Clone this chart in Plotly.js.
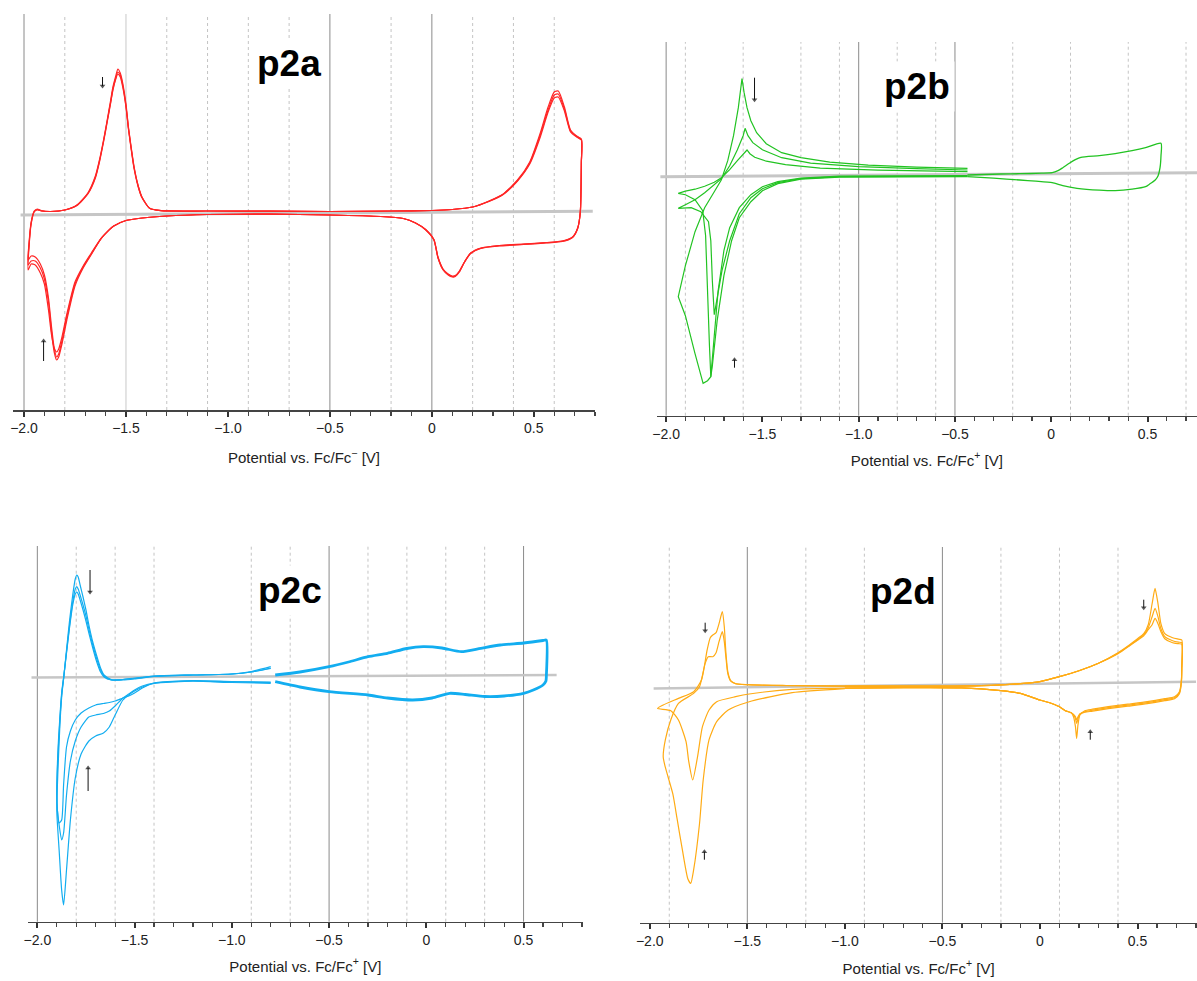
<!DOCTYPE html>
<html><head><meta charset="utf-8">
<script src="https://cdn.plot.ly/plotly-3.0.1.min.js"></script>
<style>html,body{margin:0;padding:0;background:#fff}#chart{width:1197px;height:981px}</style>
</head><body><div id="chart"></div>
<script>
// ---------- shared tick labels ----------
const tickVals = [-2.0, -1.5, -1.0, -0.5, 0, 0.5];
const tickText = ['\u22122.0', '\u22121.5', '\u22121.0', '\u22120.5', '0', '0.5'];

// ---------- p2a (red) ----------
const p2aX = [-1.980,-1.975,-1.965,-1.950,-1.935,-1.915,-1.870,-1.800,-1.740,-1.687,
 -1.650,-1.630,-1.610,-1.592,-1.575,-1.564,-1.550,-1.540,-1.528,-1.516,
 -1.500,-1.488,-1.474,-1.460,-1.440,-1.422,-1.384,-1.328,-1.100,-0.800,
 -0.500,-0.200,0.000,0.100,0.200,0.280,0.350,0.420,0.480,0.530,
 0.570,0.600,0.620,0.650,0.680,0.710,0.733,
 0.733,0.728,0.715,0.690,0.640,0.560,0.450,0.330,0.240,0.190,
 0.160,0.135,0.115,0.100,0.080,0.055,0.030,0.010,-0.030,-0.080,
 -0.140,-0.250,-0.500,-0.800,-1.100,-1.300,-1.420,-1.500,-1.560,-1.620,
 -1.670,-1.710,-1.750,-1.790,-1.815,-1.830,-1.840,-1.852,-1.865,-1.880,
 -1.900,-1.920,-1.945,-1.965,-1.980];
const p2aY1 = [-4.8,-3.0,-1.0,0.1,0.3,0.15,0.05,0.2,0.7,1.9,
 3.6,5.2,7.2,9.2,11.2,12.5,13.6,14.3,13.9,12.9,
 10.8,8.5,6.4,4.5,2.6,1.5,0.37,0.13,0.1,0.08,
 0.05,0.1,0.15,0.25,0.5,1.1,1.8,3.2,5.0,7.8,
 10.5,12.0,12.1,10.5,8.2,7.6,7.3,
 5.0,0.0,-1.6,-2.5,-2.9,-3.05,-3.2,-3.35,-3.6,-4.1,
 -5.0,-6.0,-6.45,-6.5,-6.3,-5.8,-4.6,-2.8,-1.8,-1.1,
 -0.65,-0.45,-0.3,-0.22,-0.25,-0.4,-0.6,-0.85,-1.4,-2.6,
 -4.2,-5.5,-7.2,-10.5,-13.0,-14.2,-14.5,-13.6,-11.5,-8.6,
 -6.3,-5.2,-4.5,-4.4,-4.8];
const p2aY2 = [-5.3,-3.2,-1.1,0.05,0.25,0.12,0.05,0.2,0.7,1.85,
 3.5,5.1,7.1,9.1,11.0,12.3,13.4,14.0,13.7,12.7,
 10.6,8.4,6.3,4.4,2.6,1.5,0.37,0.13,0.1,0.08,
 0.05,0.1,0.15,0.25,0.5,1.05,1.75,3.1,4.8,7.4,
 10.0,11.4,11.5,10.1,8.0,7.5,7.2,
 4.9,0.0,-1.65,-2.55,-2.95,-3.1,-3.25,-3.4,-3.65,-4.15,
 -5.0,-5.9,-6.35,-6.4,-6.2,-5.7,-4.5,-2.75,-1.75,-1.1,
 -0.65,-0.45,-0.3,-0.22,-0.25,-0.4,-0.6,-0.85,-1.4,-2.6,
 -4.25,-5.6,-7.4,-10.8,-13.3,-14.5,-14.8,-14.0,-12.0,-9.0,
 -6.7,-5.6,-4.9,-4.9,-5.3];
const p2aY3 = [-5.8,-3.4,-1.2,0.0,0.2,0.1,0.05,0.2,0.65,1.8,
 3.4,5.0,7.0,9.0,10.9,12.2,13.3,13.8,13.5,12.5,
 10.5,8.3,6.2,4.3,2.5,1.45,0.37,0.13,0.1,0.08,
 0.05,0.1,0.15,0.25,0.5,1.08,1.78,3.15,4.9,7.6,
 10.2,11.7,11.8,10.3,8.1,7.55,7.25,
 4.95,0.0,-1.62,-2.52,-2.92,-3.07,-3.22,-3.37,-3.62,-4.12,
 -5.0,-5.95,-6.4,-6.45,-6.25,-5.75,-4.55,-2.78,-1.78,-1.1,
 -0.65,-0.45,-0.3,-0.22,-0.25,-0.4,-0.6,-0.85,-1.4,-2.6,
 -4.1,-5.4,-7.0,-10.2,-12.6,-13.7,-14.0,-13.6,-12.3,-9.8,
 -7.2,-6.1,-5.3,-5.2,-5.8];
const p2aBaseX = [-2.017, 0.789];
const p2aBaseY = [-0.3, 0.07];

// ---------- p2b (green) ----------
const p2bC1X = [-0.435,-0.8,-1.1,-1.3,-1.42,-1.5,-1.56,-1.62,-1.66,-1.70,-1.735,-1.76,-1.768,-1.785,-1.808,-1.85,-1.90,-1.937,-1.90,-1.85,-1.80,-1.75,-1.713,-1.68,-1.65,-1.625,-1.606,-1.595,-1.58,-1.56,-1.53,-1.48,-1.40,-1.30,-1.15,-0.95,-0.70,-0.435];
const p2bC1Y = [-0.1,-0.1,-0.15,-0.35,-0.8,-1.5,-2.6,-4.2,-6.5,-10.0,-14.5,-19.0,-20.1,-20.5,-20.76,-17.8,-14.0,-12.1,-9.0,-5.6,-3.2,-1.6,-0.4,1.5,4.0,6.8,9.7,8.3,6.8,5.5,4.3,3.2,2.3,1.8,1.35,1.05,0.85,0.74];
const p2bC2X = [-0.435,-0.8,-1.1,-1.3,-1.42,-1.5,-1.56,-1.62,-1.67,-1.71,-1.74,-1.75,-1.76,-1.768,-1.78,-1.82,-1.87,-1.937,-1.90,-1.85,-1.80,-1.75,-1.713,-1.67,-1.63,-1.60,-1.59,-1.575,-1.55,-1.50,-1.40,-1.25,-1.0,-0.70,-0.435];
const p2bC2Y = [-0.05,-0.05,-0.1,-0.3,-0.7,-1.3,-2.2,-3.8,-6.5,-9.5,-12.8,-13.9,-10.5,-6.5,-4.6,-3.6,-3.2,-3.26,-2.9,-2.4,-1.7,-0.9,-0.3,1.0,2.6,4.0,4.74,4.0,3.3,2.6,1.8,1.25,0.9,0.7,0.57];
const p2bC3X = [-0.435,-0.8,-1.1,-1.3,-1.42,-1.5,-1.56,-1.62,-1.67,-1.70,-1.73,-1.75,-1.768,-1.775,-1.785,-1.795,-1.81,-1.85,-1.90,-1.937,-1.90,-1.85,-1.80,-1.75,-1.713,-1.67,-1.63,-1.60,-1.58,-1.565,-1.54,-1.48,-1.38,-1.2,-0.9,-0.435];
const p2bC3Y = [0.0,0.0,-0.05,-0.25,-0.6,-1.1,-1.9,-3.2,-5.2,-7.5,-11.5,-16.0,-20.1,-17.0,-11.0,-6.0,-3.5,-2.4,-1.9,-1.76,-1.55,-1.35,-1.05,-0.65,-0.2,0.6,1.5,2.2,2.57,2.2,1.85,1.45,1.1,0.75,0.55,0.4];
const p2bRX = [-0.435,-0.262,-0.163,-0.05,0.005,0.035,0.06,0.094,0.125,0.154,0.25,0.332,0.42,0.49,0.57,0.57,0.565,0.555,0.54,0.51,0.49,0.42,0.332,0.25,0.134,0.06,0.005,-0.08,-0.163,-0.3,-0.435];
const p2bRY = [0.07,0.17,0.2,0.25,0.3,0.5,0.8,1.24,1.6,1.84,2.0,2.2,2.5,2.8,3.24,2.0,0.8,0.0,-0.43,-0.85,-1.1,-1.35,-1.5,-1.45,-1.26,-1.0,-0.7,-0.55,-0.43,-0.25,-0.1];
const p2bBaseX = [-2.03, 0.757];
const p2bBaseY = [-0.1, 0.3];

// ---------- p2c (blue) ----------
const p2cX = [-0.800,-1.000,-1.200,-1.400,-1.460,-1.500,-1.530,-1.560,-1.600,-1.630,
 -1.660,-1.700,-1.735,-1.775,-1.805,-1.830,-1.850,-1.865,-1.875,-1.888,-1.897,-1.900,
 -1.895,-1.884,-1.874,-1.864,-1.850,-1.834,-1.818,-1.805,-1.797,-1.790,
 -1.780,-1.765,-1.750,-1.735,-1.715,-1.696,-1.675,-1.657,-1.620,-1.560,
 -1.500,-1.400,-1.200,-1.000,-0.900,-0.800];
const p2cYc = [-0.83,-0.75,-0.62,-0.85,-1.2,-1.6,-2.0,-2.5,-4.0,-5.2,
 -5.8,-6.1,-6.6,-7.9,-10.3,-14.5,-19.5,-23.0,-21.5,-17.5,-14.8,-13.5,
 -10.0,-5.0,-2.0,-0.2,2.5,5.5,8.0,9.6,10.0,9.8,
 9.0,7.8,6.5,5.0,3.3,2.0,0.7,0.0,-0.45,-0.5,
 -0.4,-0.15,0.0,0.1,0.35,0.83];
const p2cYb = [-0.75,-0.7,-0.58,-0.8,-1.1,-1.5,-1.9,-2.3,-3.1,-3.6,
 -3.85,-4.0,-4.2,-5.2,-6.6,-8.6,-12.0,-15.8,-16.5,-15.0,-13.5,-12.0,
 -8.5,-4.5,-1.8,-0.2,2.3,5.0,7.3,8.6,8.83,8.6,
 8.0,7.0,5.9,4.6,3.0,1.7,0.5,-0.1,-0.5,-0.45,
 -0.35,-0.12,0.0,0.1,0.3,0.7];
const p2cYa = [-0.7,-0.65,-0.55,-0.8,-1.3,-1.8,-2.1,-2.3,-2.6,-2.75,
 -2.85,-3.0,-3.3,-3.8,-4.5,-5.6,-7.2,-11.0,-14.5,-14.8,-13.5,-12.0,
 -8.0,-4.2,-1.6,-0.1,2.2,4.8,7.0,8.1,8.3,8.1,
 7.5,6.5,5.4,4.2,2.7,1.4,0.3,-0.2,-0.5,-0.45,
 -0.3,-0.1,0.0,0.1,0.3,0.65];
const p2cRX = [-0.777,-0.65,-0.5,-0.4,-0.3,-0.2,-0.1,-0.016,0.08,0.18,0.28,0.38,0.5,0.6,0.617,0.617,0.615,0.6,0.55,0.5,0.4,0.3,0.2,0.12,0.03,-0.07,-0.2,-0.3,-0.5,-0.65,-0.777];
const p2cRY = [0.0,0.3,0.83,1.3,1.83,2.17,2.65,2.83,2.7,2.33,2.67,3.0,3.2,3.45,3.5,-0.17,-0.6,-1.0,-1.5,-1.83,-2.1,-2.15,-1.95,-1.83,-2.3,-2.5,-2.3,-2.0,-1.67,-1.2,-0.67];
const p2cBaseX = [-2.03, 0.67];
const p2cBaseY = [-0.25, 0.0];

// ---------- p2d (orange) ----------
const p2dL1X = [-1.0,-1.27,-1.49,-1.56,-1.657,-1.696,-1.73,-1.755,-1.78,-1.80,-1.814,-1.853,-1.892,-1.96,-1.931,-1.853,-1.775,-1.735,-1.706,-1.690,-1.677,-1.660,-1.645,-1.628,-1.618,-1.610,-1.60,-1.585,-1.56,-1.5,-1.3,-1.0];
const p2dL1Y = [-0.15,-0.27,-0.73,-1.0,-1.5,-2.33,-4.0,-7.0,-9.33,-7.5,-5.5,-3.33,-2.4,-2.17,-1.83,-1.17,-0.5,0.67,3.67,4.9,5.17,5.4,6.3,7.5,6.0,3.5,1.5,0.6,0.3,0.2,0.12,0.05];
const p2dL2X = [-1.0,-1.27,-1.49,-1.598,-1.657,-1.696,-1.726,-1.745,-1.775,-1.79,-1.805,-1.833,-1.86,-1.882,-1.921,-1.931,-1.92,-1.892,-1.853,-1.775,-1.745,-1.716,-1.700,-1.677,-1.660,-1.645,-1.628,-1.618,-1.610,-1.60,-1.585,-1.56,-1.5,-1.3,-1.0];
const p2dL2Y = [-0.2,-0.6,-1.5,-2.33,-3.5,-5.3,-9.3,-13.7,-18.3,-19.67,-19.2,-16.3,-13.2,-10.7,-8.0,-7.0,-5.3,-3.3,-1.67,-0.67,0.0,2.33,3.0,3.0,3.4,4.5,5.5,4.5,3.0,1.3,0.55,0.3,0.2,0.1,0.05];
const p2dRX = [-1.0,-0.7,-0.5,-0.3,-0.1,0.0,0.1,0.2,0.3,0.4,0.46,0.5,0.532,0.555,0.575,0.59,0.605,0.62,0.64,0.68,0.71,0.727,
 0.727,0.725,0.715,0.69,0.64,0.55,0.45,0.35,0.27,0.23,0.205,0.195,0.188,0.182,0.172,0.16,0.13,0.1,0.05,0.0,-0.1,-0.2,-0.4,-0.7,-1.0];
const p2dR1Y = [0.05,0.05,0.05,0.1,0.3,0.5,1.0,1.6,2.35,3.4,4.2,4.8,5.3,6.2,8.3,9.83,8.3,6.3,5.3,4.9,4.75,4.67,
 2.0,0.67,-0.5,-1.0,-1.2,-1.5,-1.75,-2.0,-2.25,-2.4,-2.83,-3.8,-5.17,-4.0,-3.0,-2.6,-2.4,-2.0,-1.6,-1.33,-0.67,-0.4,-0.12,-0.1,-0.15];
const p2dR2Y = [0.05,0.05,0.05,0.1,0.3,0.5,1.0,1.6,2.35,3.35,4.15,4.7,5.2,5.9,7.0,7.83,7.0,5.8,5.0,4.6,4.45,4.4,
 1.8,0.5,-0.6,-1.1,-1.3,-1.6,-1.85,-2.1,-2.35,-2.5,-2.7,-3.2,-3.67,-3.2,-2.8,-2.6,-2.4,-2.0,-1.6,-1.33,-0.67,-0.4,-0.12,-0.1,-0.15];
const p2dR3Y = [0.05,0.05,0.05,0.1,0.3,0.5,1.0,1.6,2.35,3.3,4.1,4.65,5.1,5.7,6.2,6.83,6.3,5.5,4.8,4.4,4.3,4.25,
 1.7,0.4,-0.7,-1.2,-1.4,-1.7,-1.95,-2.2,-2.45,-2.55,-2.75,-3.0,-3.33,-3.0,-2.8,-2.6,-2.4,-2.0,-1.6,-1.33,-0.67,-0.4,-0.12,-0.1,-0.15];
const p2dBaseX = [-1.98, 0.80];
const p2dBaseY = [-0.17, 0.5];

// ---------- grid line positions ----------
const p2aGridSolid = [-2.0, -0.5, 0.0], p2aGridLight = [-1.5], p2aGridDot = [-1.8,-1.3,-1.1,-0.9,-0.7,-0.2,0.2,0.4,0.6];
const p2bGridSolid = [-2.0, -1.0, -0.5], p2bGridLight = [], p2bGridDot = [-1.9,-1.6,-1.3,-1.1,-0.8,-0.6,-0.2,0.1,0.4,0.7];
const p2cGridSolid = [-2.0, -0.5, 0.5], p2cGridLight = [], p2cGridDot = [-1.8,-1.6,-1.4,-0.9,-0.7,-0.3,-0.1,0.1,0.3];
const p2dGridSolid = [-1.5, -0.5], p2dGridLight = [], p2dGridDot = [-1.9,-1.2,-0.9,-0.2,0.1,0.4];

// ---------- small scan-direction arrows (x, tail y, head y) ----------
const arrowsAX = [-1.615, -1.904], arrowsATail = [13.5, -14.9], arrowsAHead = [12.6, -12.9];
const arrowsBX = [-1.541, -1.645], arrowsBTail = [9.8, -19.2], arrowsBHead = [7.6, -18.4];
const arrowsCX = [-1.729, -1.739], arrowsCTail = [10.5, -11.6], arrowsCHead = [8.3, -9.3];
const arrowsDX = [-1.716, 0.532, 0.258, -1.72], arrowsDTail = [6.4, 8.7, -5.3, -17.3], arrowsDHead = [5.6, 7.9, -4.5, -16.5];

// ---------- layout ----------
const W = 1197, H = 981;
const FONT = 'Liberation Sans, Arial, Helvetica, sans-serif';
const RED = '#ff2626', GREEN = '#22c322', BLUE = '#12adf0', ORANGE = '#ffab14', GRAY = '#c6c6c6';

const panels = [
  {n:'', name:'p2a', xpx:[13,595], ypx:[14,410], xr:[-2.054,0.80], yr:[-19.8,19.8],
   title:[289,63], axtext:'Potential vs. Fc/Fc<sup>\u2212</sup> [V]', standoff:17,
   solid:p2aGridSolid, light:p2aGridLight, dot:p2aGridDot},
  {n:'2', name:'p2b', xpx:[656.7,1197], ypx:[42,415.7], xr:[-2.049,0.757], yr:[-24.0,13.37],
   title:[917,87], axtext:'Potential vs. Fc/Fc<sup>+</sup> [V]', standoff:14,
   solid:p2bGridSolid, light:p2bGridLight, dot:p2bGridDot},
  {n:'3', name:'p2c', xpx:[28,582.7], ypx:[546,921.7], xr:[-2.048,0.804], yr:[-24.67,12.9],
   title:[290,590], axtext:'Potential vs. Fc/Fc<sup>+</sup> [V]', standoff:14,
   solid:p2cGridSolid, light:p2cGridLight, dot:p2cGridDot},
  {n:'4', name:'p2d', xpx:[640.2,1197], ypx:[547,922.7], xr:[-2.049,0.805], yr:[-23.6,13.97],
   title:[903,591], axtext:'Potential vs. Fc/Fc<sup>+</sup> [V]', standoff:15,
   solid:p2dGridSolid, light:p2dGridLight, dot:p2dGridDot}
];

const layout = {
  width: W, height: H, margin: {l:0, r:0, t:0, b:0},
  paper_bgcolor: '#fff', plot_bgcolor: '#fff', showlegend: false,
  font: {family: FONT, color: '#222'},
  shapes: [], annotations: []
};

panels.forEach(p => {
  const xa = 'xaxis' + p.n, ya = 'yaxis' + p.n, xref = 'x' + p.n, yref = 'y' + p.n;
  layout[xa] = {
    domain: [p.xpx[0]/W, Math.min(1, p.xpx[1]/W)], anchor: yref, range: p.xr,
    title: {text: p.axtext, font: {family: FONT, size: 15, color: '#222'}, standoff: p.standoff},
    tickmode: 'array', tickvals: tickVals, ticktext: tickText,
    ticks: 'outside', ticklen: 5, tickwidth: 2, tickcolor: '#333',
    tickfont: {family: FONT, size: 14, color: '#222'},
    showline: true, linecolor: '#444', linewidth: 1.5,
    showgrid: false, zeroline: false,
    minor: {tickmode: 'linear', tick0: 0, dtick: 0.1, ticks: 'outside', ticklen: 4, tickwidth: 1.2, tickcolor: '#444', showgrid: false}
  };
  layout[ya] = {
    domain: [1 - p.ypx[1]/H, 1 - p.ypx[0]/H], anchor: xref, range: p.yr,
    visible: false, showgrid: false, zeroline: false
  };
  const vline = (x, color, dash) => ({type:'line', xref: xref, yref: yref + ' domain',
    x0: x, x1: x, y0: 0, y1: 1, layer: 'below', line: {color: color, width: 1, dash: dash}});
  p.solid.forEach(x => layout.shapes.push(vline(x, '#8a8a8a', 'solid')));
  p.light.forEach(x => layout.shapes.push(vline(x, '#c8c8c8', 'solid')));
  p.dot.forEach(x => layout.shapes.push(vline(x, '#c4c4c4', 'dot')));

  layout.annotations.push({xref:'paper', yref:'paper', x: p.title[0]/W, y: 1 - p.title[1]/H,
    xanchor:'center', yanchor:'middle', text: '<b>' + p.name + '</b>', showarrow:false,
    font:{family: FONT, size: 37, color:'#000'}, bgcolor:'#fff', borderpad: 4});
});

function curve(x, y, n, color, width, shape) {
  return {type:'scatter', mode:'lines', x: x, y: y, xaxis:'x' + n, yaxis:'y' + n,
    line: {color: color, width: width, shape: shape || 'spline', smoothing: 0.6}, hoverinfo:'skip'};
}
function arrowTraces(xs, tails, heads, n) {
  const out = [];
  xs.forEach((x, i) => {
    const up = heads[i] > tails[i];
    out.push({type:'scatter', mode:'lines+markers', x:[x, x], y:[tails[i], heads[i]],
      xaxis:'x' + n, yaxis:'y' + n, hoverinfo:'skip',
      line:{color:'#111', width:1},
      marker:{symbol:['circle', up ? 'triangle-up' : 'triangle-down'], size:[0, 5], color:'#111', line:{width:0}}});
  });
  return out;
}

const traces = [
  curve(p2aBaseX, p2aBaseY, '', GRAY, 3, 'linear'),
  curve(p2aX, p2aY3, '', RED, 1.2),
  curve(p2aX, p2aY2, '', RED, 1.2),
  curve(p2aX, p2aY1, '', RED, 1.2),

  curve(p2bBaseX, p2bBaseY, '2', GRAY, 3, 'linear'),
  curve(p2bC1X, p2bC1Y, '2', GREEN, 1.2, 'linear'),
  curve(p2bC2X, p2bC2Y, '2', GREEN, 1.2, 'linear'),
  curve(p2bC3X, p2bC3Y, '2', GREEN, 1.2, 'linear'),
  curve(p2bRX, p2bRY, '2', GREEN, 1.3),

  curve(p2cBaseX, p2cBaseY, '3', GRAY, 2.5, 'linear'),
  curve(p2cX, p2cYa, '3', BLUE, 1.2),
  curve(p2cX, p2cYb, '3', BLUE, 1.2),
  curve(p2cX, p2cYc, '3', BLUE, 1.2),
  curve(p2cRX, p2cRY, '3', BLUE, 2.8),

  curve(p2dBaseX, p2dBaseY, '4', GRAY, 2.5, 'linear'),
  curve(p2dL1X, p2dL1Y, '4', ORANGE, 1.2),
  curve(p2dL2X, p2dL2Y, '4', ORANGE, 1.2),
  curve(p2dRX, p2dR3Y, '4', ORANGE, 1.2),
  curve(p2dRX, p2dR2Y, '4', ORANGE, 1.2),
  curve(p2dRX, p2dR1Y, '4', ORANGE, 1.2)
].concat(
  arrowTraces(arrowsAX, arrowsATail, arrowsAHead, ''),
  arrowTraces(arrowsBX, arrowsBTail, arrowsBHead, '2'),
  arrowTraces(arrowsCX, arrowsCTail, arrowsCHead, '3'),
  arrowTraces(arrowsDX, arrowsDTail, arrowsDHead, '4')
);

Plotly.newPlot('chart', traces, layout, {staticPlot: true, displayModeBar: false});
</script>
</body></html>
